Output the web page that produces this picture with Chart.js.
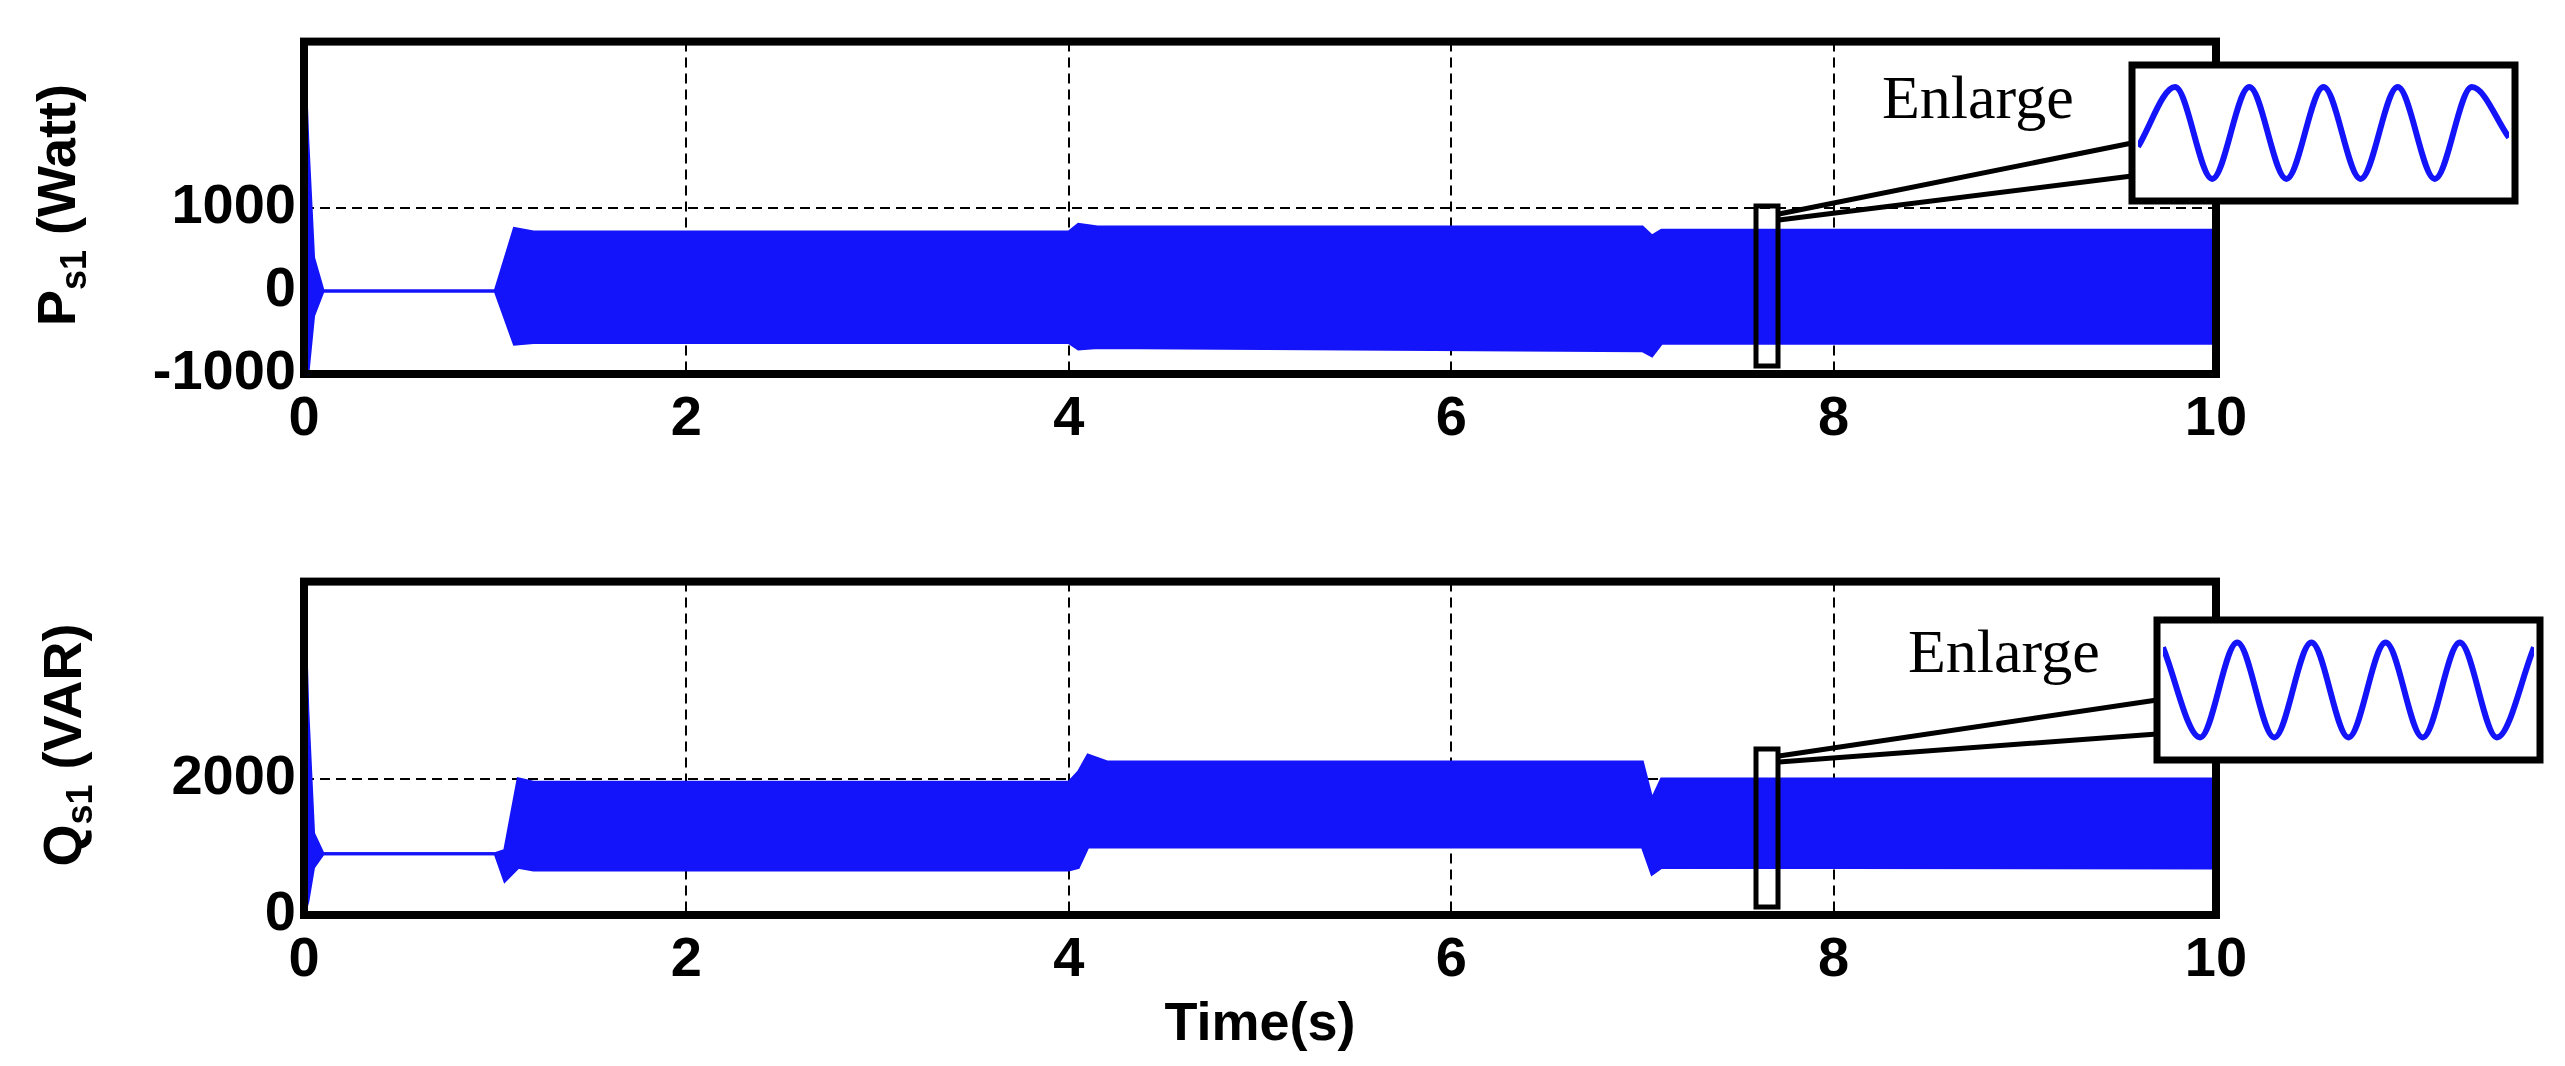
<!DOCTYPE html>
<html>
<head>
<meta charset="utf-8">
<script src="https://cdn.jsdelivr.net/npm/chart.js@4.4.0/dist/chart.umd.min.js"></script>
<style>
  body { margin: 0; background: #fff; width: 2565px; height: 1066px; position: relative; overflow: hidden; font-family: "Liberation Sans", Arial, sans-serif; }
  .abs { position: absolute; }
  .ylab { font-weight: bold; font-size: 54px; white-space: nowrap; transform: translate(-50%, -50%) rotate(-90deg); }
  .ylab sub { font-size: 36px; }
  .enl { font-family: "Liberation Serif", serif; font-size: 62px; }
</style>
</head>
<body>
<canvas id="cP" class="abs" style="left:0;top:0;width:2565px;height:470px"></canvas>
<canvas id="cQ" class="abs" style="left:0;top:540px;width:2565px;height:471px"></canvas>
<svg class="abs" style="left:0;top:0" width="2565" height="1066">
  <g fill="none" stroke="#000">
    <rect x="2132" y="65" width="383" height="136" stroke-width="7" fill="#fff"/>
    <rect x="2157" y="620" width="383" height="140" stroke-width="7" fill="#fff"/>
    <rect x="1756" y="206" width="22" height="160" stroke-width="5"/>
    <rect x="1756" y="749" width="22" height="158" stroke-width="5"/>
    <path d="M1779 214 L2132 143 M1779 220 L2132 176" stroke-width="5"/>
    <path d="M1779 756 L2157 700 M1779 762 L2157 734" stroke-width="5"/>
  </g>
</svg>
<canvas id="iP" class="abs" style="left:2138px;top:71px;width:371px;height:124px"></canvas>
<canvas id="iQ" class="abs" style="left:2163px;top:626px;width:371px;height:128px"></canvas>
<div class="abs enl" style="left:1882px;top:62px">Enlarge</div>
<div class="abs enl" style="left:1908px;top:616px">Enlarge</div>
<div class="abs ylab" style="left:60px;top:205px">P<sub>s1</sub> (Watt)</div>
<div class="abs ylab" style="left:66px;top:745px">Q<sub>s1</sub> (VAR)</div>
<div class="abs" style="left:1260px;top:990px;transform:translateX(-50%);font-weight:bold;font-size:54px">Time(s)</div>
<script>
// envelope of the oscillating signals
const pTime  = [0, 0.02, 0.05, 0.1, 1.0, 1.1, 1.2, 4.0, 4.05, 4.15, 7.0, 7.05, 7.1, 10];
const pUpper = [3000, 1800, 400, 0, 0, 750, 710, 710, 800, 770, 770, 660, 730, 730];
const pLower = [-1000, -1000, -300, 0, 0, -640, -620, -620, -700, -680, -720, -780, -630, -630];

const qTime  = [0, 0.02, 0.05, 0.1, 1.0, 1.05, 1.12, 1.2, 4.0, 4.05, 4.1, 4.2, 7.0, 7.05, 7.1, 10];
const qUpper = [4900, 3000, 1200, 900, 900, 950, 2000, 1950, 1950, 2100, 2350, 2250, 2250, 1700, 2000, 2000];
const qLower = [0, 200, 700, 900, 900, 500, 700, 660, 660, 700, 1000, 1000, 1000, 600, 700, 690];

const xTicks = [0, 2, 4, 6, 8, 10];
const pTicks = [-1000, 0, 1000];
const qTicks = [0, 2000];

// zoomed views
const insetP = [-0.3, 1, -1, 1, -1, 1, -1, 1, -1, 1, -0.1];
const insetQ = [0.9, -1, 1, -1, 1, -1, 1, -1, 1, -1, 0.9];

const BLUE = 'rgb(20,20,250)';

const frame = {
  id: 'frame',
  afterDraw(c) {
    const a = c.chartArea, ctx = c.ctx;
    ctx.save();
    ctx.strokeStyle = '#000';
    ctx.lineWidth = 8;
    ctx.strokeRect(a.left, a.top, a.right - a.left, a.bottom - a.top);
    ctx.restore();
  }
};

function bandChart(id, t, up, lo, yMin, yMax, yTicks, topPad) {
  const tickFont = { family: 'Liberation Sans', size: 56, weight: 'bold' };
  new Chart(document.getElementById(id), {
    type: 'line',
    data: {
      datasets: [
        { data: t.map((x, i) => ({ x, y: up[i] })), borderColor: BLUE, backgroundColor: BLUE, borderWidth: 3, pointRadius: 0, fill: '+1' },
        { data: t.map((x, i) => ({ x, y: lo[i] })), borderColor: BLUE, borderWidth: 3, pointRadius: 0, fill: false }
      ]
    },
    options: {
      responsive: false, animation: false,
      layout: { padding: { top: topPad, right: 349, left: 0, bottom: 0 } },
      plugins: { legend: { display: false }, tooltip: { enabled: false } },
      scales: {
        x: {
          type: 'linear', min: 0, max: 10,
          afterBuildTicks: s => { s.ticks = xTicks.map(v => ({ value: v })); },
          afterFit: s => { s.height = 96; },
          ticks: { font: tickFont, color: '#000', padding: 12, callback: v => String(v) },
          grid: { color: '#000', lineWidth: 2, drawTicks: false },
          border: { dash: [10, 6], display: false }
        },
        y: {
          min: yMin, max: yMax,
          afterBuildTicks: s => { s.ticks = yTicks.map(v => ({ value: v })); },
          afterFit: s => { s.width = 304; },
          ticks: { font: tickFont, color: '#000', padding: 8, callback: v => String(v) },
          grid: { color: '#000', lineWidth: 2, drawTicks: false },
          border: { dash: [10, 6], display: false }
        }
      }
    },
    plugins: [frame]
  });
}

function insetChart(id, vals) {
  new Chart(document.getElementById(id), {
    type: 'line',
    data: { labels: vals.map((v, i) => i), datasets: [{ data: vals, borderColor: BLUE, borderWidth: 6, pointRadius: 0, cubicInterpolationMode: 'monotone' }] },
    options: {
      responsive: false, animation: false,
      layout: { padding: 0 },
      plugins: { legend: { display: false }, tooltip: { enabled: false } },
      scales: { x: { display: false }, y: { display: false, min: -1.35, max: 1.35 } }
    }
  });
}

for (const [id, w, h] of [['cP', 2565, 470], ['cQ', 2565, 471], ['iP', 371, 124], ['iQ', 371, 128]]) {
  const c = document.getElementById(id); c.width = w; c.height = h;
}
bandChart('cP', pTime, pUpper, pLower, -1000, 3000, pTicks, 32);
bandChart('cQ', qTime, qUpper, qLower, 0, 4900, qTicks, 33);
insetChart('iP', insetP);
insetChart('iQ', insetQ);
</script>
</body>
</html>
